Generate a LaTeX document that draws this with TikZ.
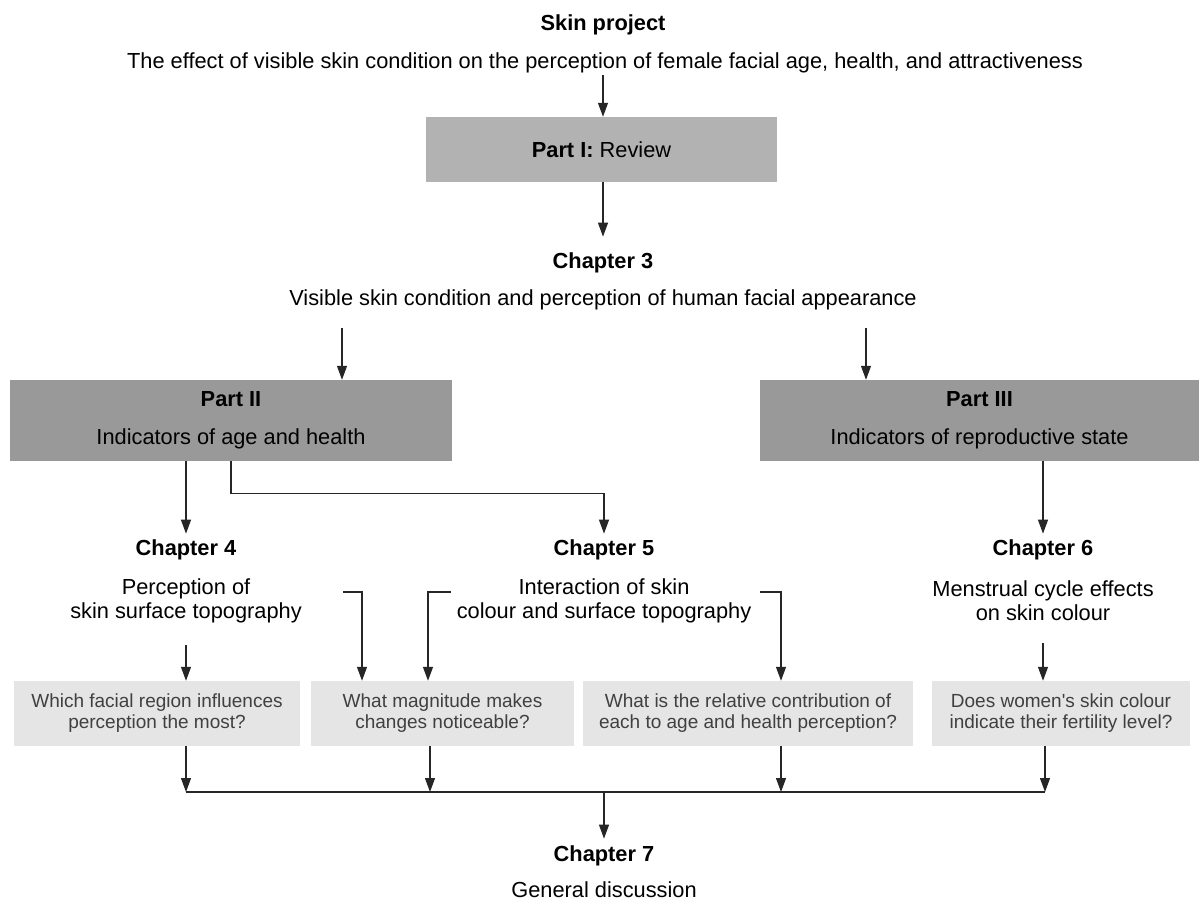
\documentclass[tikz,border=0pt]{standalone}
\usepackage{fontspec}
\setmainfont{Liberation Sans}
\usetikzlibrary{arrows.meta,calc}

\begin{document}
\begin{tikzpicture}[x=1pt,y=-1pt,
		txt/.style={font=\fontsize{21.8}{24}\selectfont, align=center, inner sep=0pt},
		head/.style={txt, font=\fontsize{21.8}{24}\selectfont\bfseries},
		part/.style={txt, minimum height=65pt, fill=gray!60},
		partb/.style={txt, minimum height=81pt, fill=gray!80},
		ques/.style={font=\fontsize{19}{21}\selectfont, text=black!75, align=center, minimum height=65pt, inner sep=0pt, fill=gray!20},
		arr/.style={-{Triangle[width=10pt,length=14pt]}, line width=1.2pt, black!85},
		lin/.style={line width=1.2pt, black!85}]
		\useasboundingbox (0,0) rectangle (1199,901);
		\node[head] (top) at (603,25) {Skin project};
		\node[txt] (sub) at (605,63) {The effect of visible skin condition on the perception of female facial age, health, and attractiveness};
		\node[part, minimum width=351pt] (P1) at (601.5,149.5) {\textbf{Part I:} Review};
		\node[head] (C3) at (603,263) {Chapter 3};
		\node[txt] (C3t) at (603,300) {Visible skin condition and perception of human facial appearance};
		\node[partb, minimum width=442pt] (P2) at (231,420.5) {\textbf{Part II}\\[14pt]Indicators of age and health};
		\node[partb, minimum width=439pt] (P3) at (979.5,420.5) {\textbf{Part III}\\[14pt]Indicators of reproductive state};
%
		\node[head] (C4) at (186,550) {Chapter 4};
		\node[txt] (C4t) at (186,601) {Perception of\\skin surface topography};
		\node[head] (C5) at (604,550) {Chapter 5};
		\node[txt] (C5t) at (604,601) {Interaction of skin\\colour and surface topography};
		\node[head] (C6) at (1043,550) {Chapter 6};
		\node[txt] (C6t) at (1043,601) {Menstrual cycle effects\\on skin colour};
%
		\node[ques, minimum width=286pt] (Q1) at (157,713.5) {Which facial region influences\\perception the most?};
		\node[ques, minimum width=263pt] (Q2) at (442.5,713.5) {What magnitude makes\\changes noticeable?};
		\node[ques, minimum width=330pt] (Q3) at (748,713.5) {What is the relative contribution of\\each to age and health perception?};
		\node[ques, minimum width=258pt] (Q4) at (1061,713.5) {Does women\textquotesingle s skin colour\\indicate their fertility level?};
%
		\node[head] (C7) at (604,856) {Chapter 7};
		\node[txt] (C7t) at (604,890) {General discussion};
%
		\coordinate (s0) at (603,75);
		\coordinate (c3l) at (342,328);
		\coordinate (c3r) at (866,328);
		\coordinate (k4) at (343,592);
		\coordinate (k5a) at (451,592);
		\coordinate (k5b) at (760,592);
		\coordinate (bus) at (604,792);
		\coordinate (busl) at (186,792);
		\coordinate (bus2) at (430,792);
		\coordinate (bus3) at (781,792);
		\coordinate (busr) at (1045,792);
%
		\draw[arr] (s0) -- (s0 |- P1.north);
		\draw[arr] (P1.south -| s0) -- ($(C3.north)+(0,-16)$);
		\draw[arr] (c3l) -- (c3l |- P2.north);
		\draw[arr] (c3r) -- (c3r |- P3.north);
		\draw[arr] (P2.south -| C4.north) -- ($(C4.north)+(0,-6)$);
		\draw[arr] (P2.south) -- ++(0,32) -| ($(C5.north)+(0,-6)$);
		\draw[arr] (P3.south -| C6.north) -- ($(C6.north)+(0,-6)$);
%
		\draw[arr] ($(C4t.south)+(0,22)$) -- (Q1.north -| C4t.south);
		\draw[arr] (k4) -| ($(Q2.north)+(-80.5,0)$);
		\draw[arr] (k5a) -| ($(Q2.north)+(-14.5,0)$);
		\draw[arr] (k5b) -| ($(Q3.north)+(33,0)$);
		\draw[arr] ($(C6t.south)+(0,22)$) -- (Q4.north -| C6t.south);
%
		\draw[arr] (Q1.south -| busl) -- (busl);
		\draw[arr] (Q2.south -| bus2) -- (bus2);
		\draw[arr] (Q3.south -| bus3) -- (bus3);
		\draw[arr] (Q4.south -| busr) -- (busr);
		\draw[lin] (busl) -- (busr);
		\draw[arr] (bus) -- ($(C7.north)+(0,-7)$);
	\end{tikzpicture}
\end{document}
